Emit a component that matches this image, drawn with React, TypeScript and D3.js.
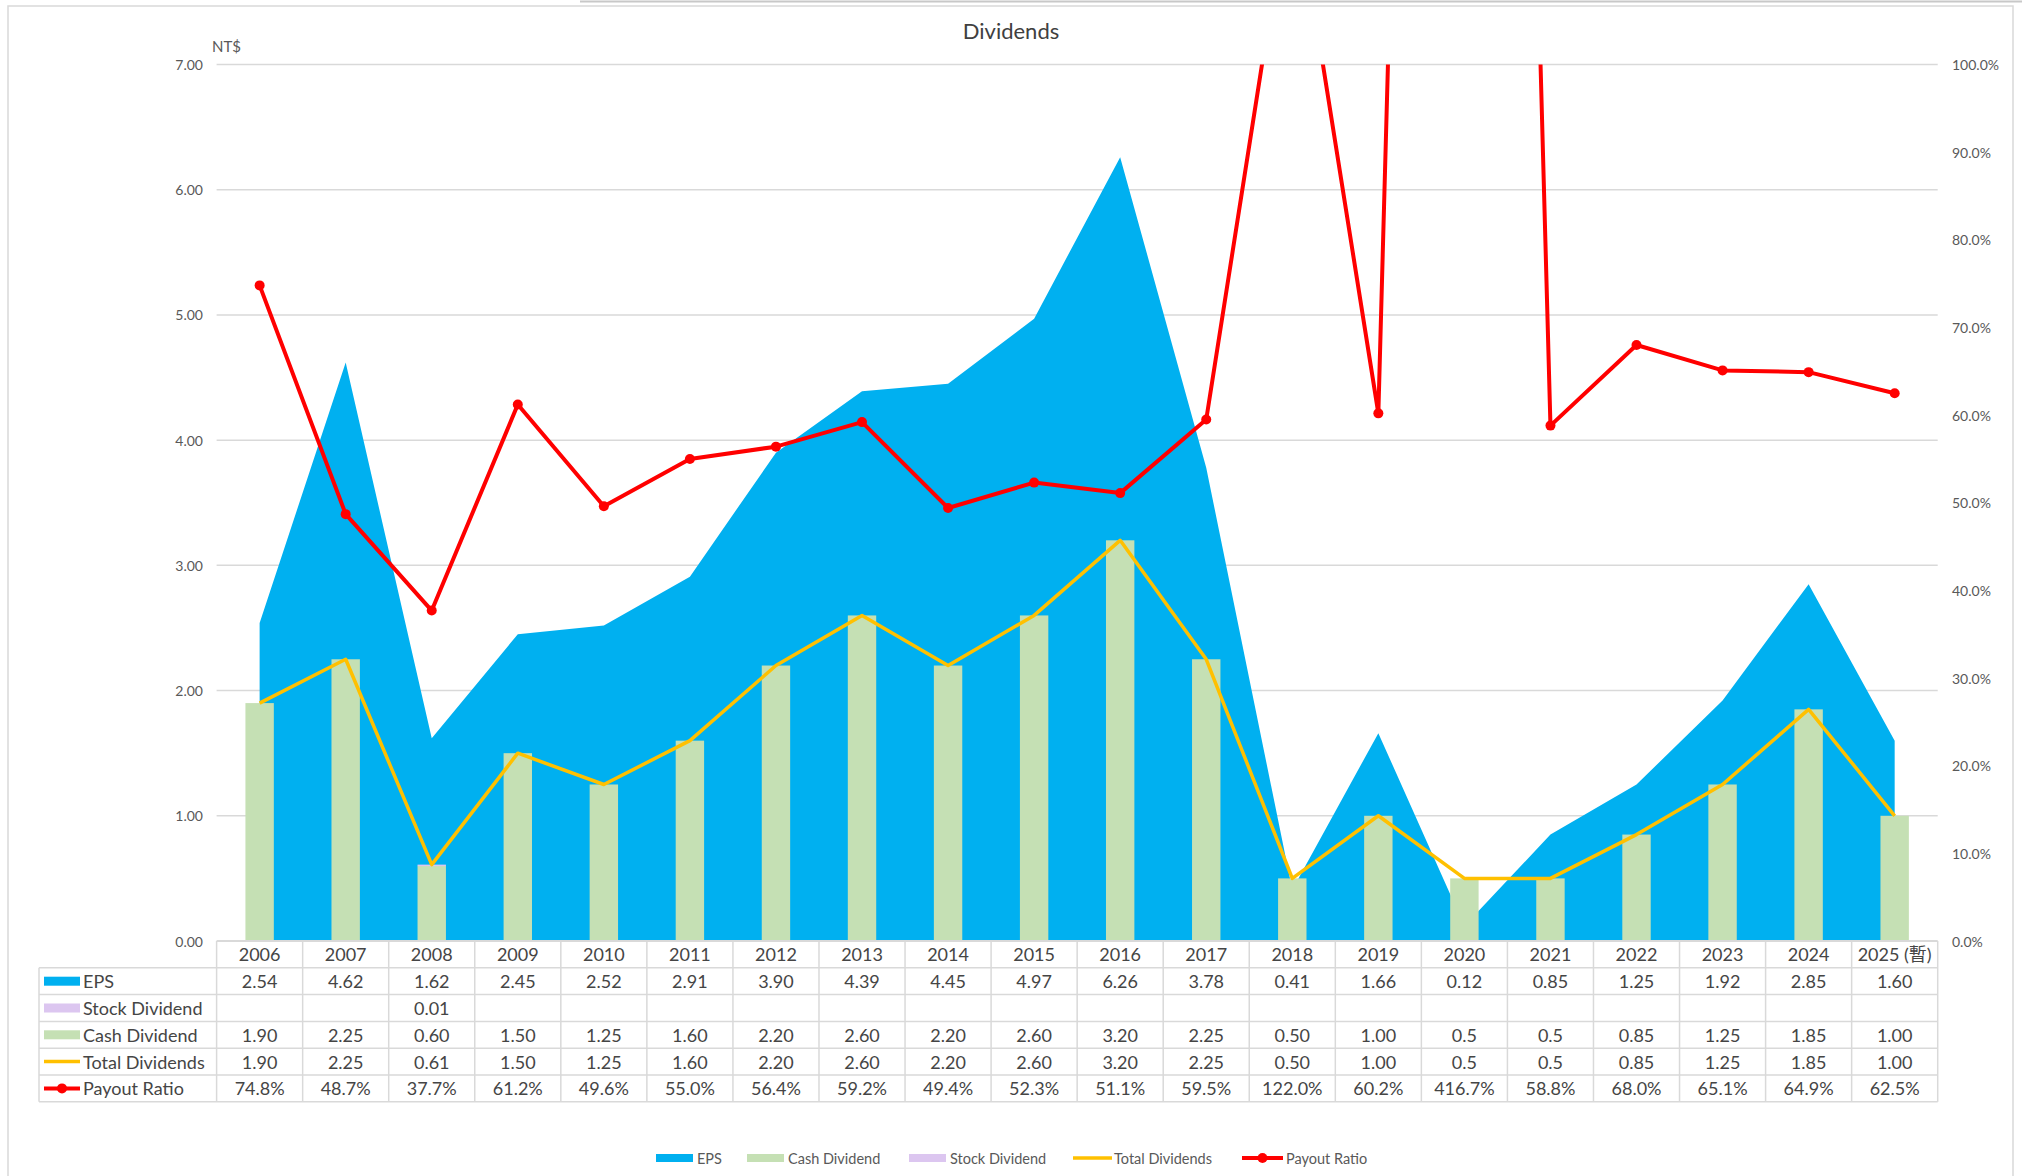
import React from 'react';
import * as d3 from 'd3';

const years = ['2006', '2007', '2008', '2009', '2010', '2011', '2012', '2013', '2014', '2015', '2016', '2017', '2018', '2019', '2020', '2021', '2022', '2023', '2024', '2025 (暫)'];
const eps = [2.54, 4.62, 1.62, 2.45, 2.52, 2.91, 3.9, 4.39, 4.45, 4.97, 6.26, 3.78, 0.41, 1.66, 0.12, 0.85, 1.25, 1.92, 2.85, 1.6];
const stockDiv = [0, 0, 0.01, 0, 0, 0, 0, 0, 0, 0, 0, 0, 0, 0, 0, 0, 0, 0, 0, 0];
const cashDiv = [1.9, 2.25, 0.6, 1.5, 1.25, 1.6, 2.2, 2.6, 2.2, 2.6, 3.2, 2.25, 0.5, 1.0, 0.5, 0.5, 0.85, 1.25, 1.85, 1.0];
const totalDiv = [1.9, 2.25, 0.61, 1.5, 1.25, 1.6, 2.2, 2.6, 2.2, 2.6, 3.2, 2.25, 0.5, 1.0, 0.5, 0.5, 0.85, 1.25, 1.85, 1.0];
const payout = [74.8, 48.7, 37.7, 61.2, 49.6, 55.0, 56.4, 59.2, 49.4, 52.3, 51.1, 59.5, 122.0, 60.2, 416.7, 58.8, 68.0, 65.1, 64.9, 62.5];

// table text as shown (some cells keep one decimal)
const stockText = ['', '', '0.01', '', '', '', '', '', '', '', '', '', '', '', '', '', '', '', '', ''];
const cashText = ['1.90', '2.25', '0.60', '1.50', '1.25', '1.60', '2.20', '2.60', '2.20', '2.60', '3.20', '2.25', '0.50', '1.00', '0.5', '0.5', '0.85', '1.25', '1.85', '1.00'];
const totalText = ['1.90', '2.25', '0.61', '1.50', '1.25', '1.60', '2.20', '2.60', '2.20', '2.60', '3.20', '2.25', '0.50', '1.00', '0.5', '0.5', '0.85', '1.25', '1.85', '1.00'];

const leftTicks = [0, 1, 2, 3, 4, 5, 6, 7];
const rightTicks = [0, 10, 20, 30, 40, 50, 60, 70, 80, 90, 100];

const C_EPS = '#00B0F0';
const C_CASH = '#C5E0B4';
const C_STOCK = '#DCC6F0';
const C_TOTAL = '#FFC000';
const C_PAYOUT = '#FF0000';
const FONT = 'Lato, "Noto Sans CJK TC", sans-serif';

const W = 2022;
const H = 1176;
const left = 216.6;
const right = 1937.7;
const top = 64.5;
const bottom = 941;

export default function App() {
  const x = d3.scaleBand().domain(years).range([left, right]).padding(0);
  const yL = d3.scaleLinear().domain([0, 7]).range([bottom, top]);
  const yR = d3.scaleLinear().domain([0, 100]).range([bottom, top]);
  const cx = (i: number) => (x(years[i]) as number) + x.bandwidth() / 2;
  const barW = x.bandwidth() * 0.33;

  const area = d3.area<number>().x((_, i) => cx(i)).y0(yL(0)).y1((d) => yL(d));
  const totalLine = d3.line<number>().x((_, i) => cx(i)).y((d) => yL(d));
  const payoutLine = d3.line<number>().x((_, i) => cx(i)).y((d) => yR(d));

  const rowH = 26.8;
  const tableTop = bottom;
  const labelLeft = 39;
  const rows = [
    { name: 'EPS', cells: eps.map((d) => d.toFixed(2)), kind: 'rect', color: C_EPS },
    { name: 'Stock Dividend', cells: stockText, kind: 'rect', color: C_STOCK },
    { name: 'Cash Dividend', cells: cashText, kind: 'rect', color: C_CASH },
    { name: 'Total Dividends', cells: totalText, kind: 'line', color: C_TOTAL },
    { name: 'Payout Ratio', cells: payout.map((d) => d.toFixed(1) + '%'), kind: 'marker', color: C_PAYOUT },
  ];
  const gridC = '#D9D9D9';
  const textC = '#454545';

  const legend = [
    { name: 'EPS', kind: 'rect', color: C_EPS, x: 656 },
    { name: 'Cash Dividend', kind: 'rect', color: C_CASH, x: 747 },
    { name: 'Stock Dividend', kind: 'rect', color: C_STOCK, x: 909 },
    { name: 'Total Dividends', kind: 'line', color: C_TOTAL, x: 1073 },
    { name: 'Payout Ratio', kind: 'marker', color: C_PAYOUT, x: 1242 },
  ];

  return (
    <svg width={W} height={H} style={{ position: 'absolute', left: 0, top: 0, display: 'block', background: '#fff' }} fontFamily={FONT}>
      <defs>
        <clipPath id="plot">
          <rect x={left} y={top} width={right - left} height={bottom - top} />
        </clipPath>
      </defs>
      {/* frame */}
      <line x1={580} x2={W} y1={1.5} y2={1.5} stroke="#C8C8C8" strokeWidth={2} />
      <rect x={8} y={6} width={2005} height={H + 10} fill="none" stroke={gridC} strokeWidth={1.5} />

      <text x={1011} y={39} textAnchor="middle" fontSize={22} fill="#404040">Dividends</text>
      <text x={212} y={52} fontSize={15} fill="#595959">NT$</text>

      {/* gridlines + left axis */}
      {leftTicks.map((t) => (
        <g key={t}>
          {t > 0 && <line x1={left} x2={right} y1={yL(t)} y2={yL(t)} stroke={gridC} strokeWidth={1.5} />}
          <text x={203} y={yL(t)} textAnchor="end" dominantBaseline="central" fontSize={14} fill="#595959">{t.toFixed(2)}</text>
        </g>
      ))}
      {rightTicks.map((t) => (
        <text key={t} x={1952} y={yR(t)} dominantBaseline="central" fontSize={14} fill="#595959">{t.toFixed(1) + '%'}</text>
      ))}

      <g clipPath="url(#plot)">
        <path d={area(eps) as string} fill={C_EPS} />
        {cashDiv.map((d, i) => (
          <g key={i}>
            <rect x={cx(i) - barW / 2} y={yL(d)} width={barW} height={yL(0) - yL(d)} fill={C_CASH} />
            {stockDiv[i] > 0 && (
              <rect x={cx(i) - barW / 2} y={yL(d + stockDiv[i])} width={barW} height={Math.max(1.5, yL(d) - yL(d + stockDiv[i]))} fill={C_STOCK} />
            )}
          </g>
        ))}
        <path d={totalLine(totalDiv) as string} fill="none" stroke={C_TOTAL} strokeWidth={3.5} strokeLinejoin="round" />
        <path d={payoutLine(payout) as string} fill="none" stroke={C_PAYOUT} strokeWidth={4} strokeLinejoin="round" />
        {payout.map((d, i) => (
          <circle key={i} cx={cx(i)} cy={yR(d)} r={5} fill={C_PAYOUT} />
        ))}
      </g>

      {/* data table */}
      <g>
        {years.map((yr, i) => (
          <text key={yr} x={cx(i)} y={tableTop + rowH / 2} textAnchor="middle" dominantBaseline="central" fontSize={18} fill={textC}>{yr}</text>
        ))}
        {rows.map((r, ri) => {
          const cy = tableTop + rowH * (ri + 1) + rowH / 2;
          return (
            <g key={r.name}>
              {r.kind === 'rect' && <rect x={44} y={cy - 4.5} width={36} height={9} fill={r.color} />}
              {r.kind === 'line' && <line x1={44} x2={80} y1={cy} y2={cy} stroke={r.color} strokeWidth={3.5} />}
              {r.kind === 'marker' && (
                <g>
                  <line x1={44} x2={80} y1={cy} y2={cy} stroke={r.color} strokeWidth={4} />
                  <circle cx={62} cy={cy} r={5} fill={r.color} />
                </g>
              )}
              <text x={83} y={cy} dominantBaseline="central" fontSize={18} fill={textC}>{r.name}</text>
              {r.cells.map((c, i) => (
                <text key={i} x={cx(i)} y={cy} textAnchor="middle" dominantBaseline="central" fontSize={18} fill={textC}>{c}</text>
              ))}
            </g>
          );
        })}
        {/* table grid */}
        <line x1={left} x2={right} y1={tableTop} y2={tableTop} stroke={gridC} strokeWidth={2} />
        {d3.range(1, 7).map((k) => (
          <line key={k} x1={k === 1 ? left : labelLeft} x2={right} y1={tableTop + rowH * k} y2={tableTop + rowH * k} stroke={gridC} strokeWidth={1.5} />
        ))}
        <line x1={labelLeft} x2={left} y1={tableTop + rowH} y2={tableTop + rowH} stroke={gridC} strokeWidth={1.5} />
        <line x1={labelLeft} x2={labelLeft} y1={tableTop + rowH} y2={tableTop + rowH * 6} stroke={gridC} strokeWidth={1.5} />
        {years.map((yr, i) => (
          <line key={yr} x1={x(yr) as number} x2={x(yr) as number} y1={tableTop} y2={tableTop + rowH * 6} stroke={gridC} strokeWidth={1.5} />
        ))}
        <line x1={right} x2={right} y1={tableTop} y2={tableTop + rowH * 6} stroke={gridC} strokeWidth={1.5} />
      </g>

      {/* legend */}
      {legend.map((l) => (
        <g key={l.name}>
          {l.kind === 'rect' && <rect x={l.x} y={1154} width={37} height={8} fill={l.color} />}
          {l.kind === 'line' && <line x1={l.x} x2={l.x + 39} y1={1158} y2={1158} stroke={l.color} strokeWidth={3.5} />}
          {l.kind === 'marker' && (
            <g>
              <line x1={l.x} x2={l.x + 41} y1={1158} y2={1158} stroke={l.color} strokeWidth={4} />
              <circle cx={l.x + 20.5} cy={1158} r={5} fill={l.color} />
            </g>
          )}
          <text x={l.x + (l.kind === 'marker' ? 44 : 41)} y={1158} dominantBaseline="central" fontSize={14.5} fill="#595959">{l.name}</text>
        </g>
      ))}
    </svg>
  );
}
